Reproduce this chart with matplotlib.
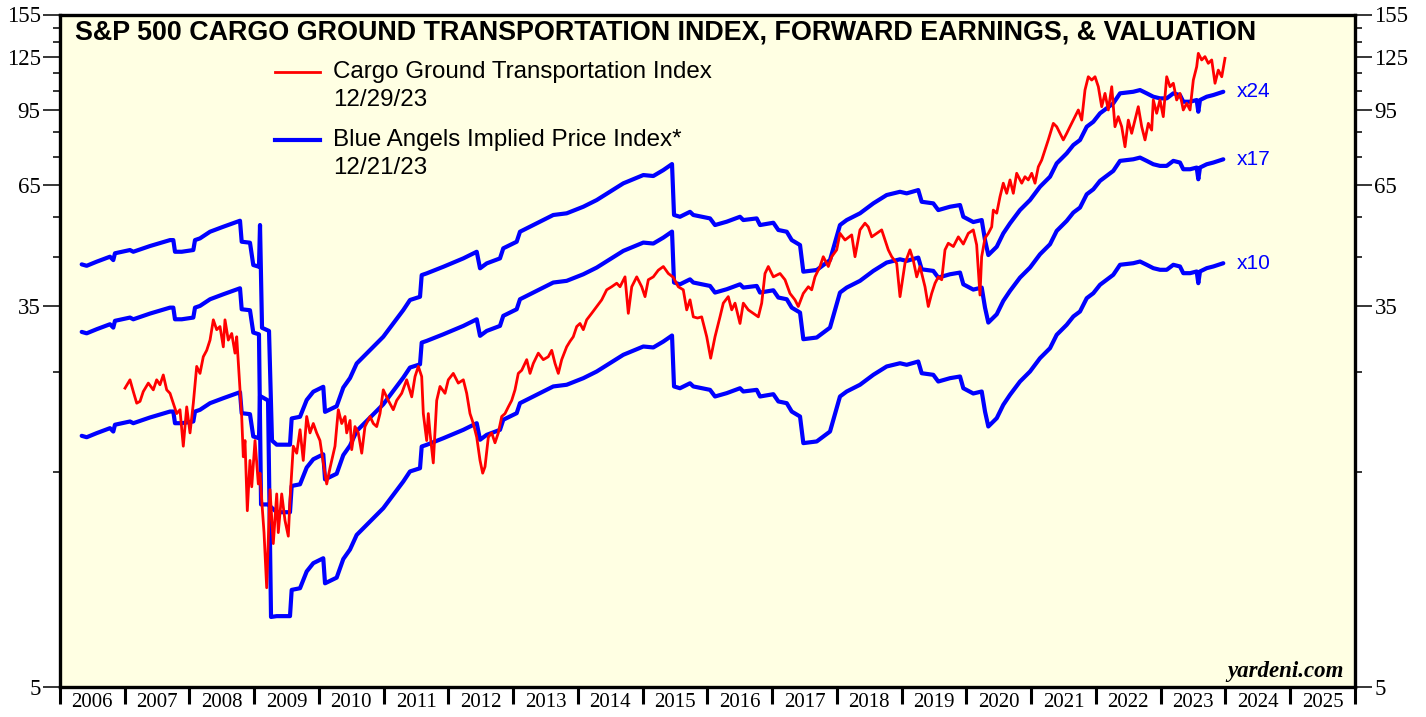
import numpy as np
import matplotlib
matplotlib.use("Agg")
import matplotlib.pyplot as plt
from matplotlib.ticker import FixedLocator, NullFormatter, FixedFormatter
from matplotlib.lines import Line2D

# ---------------- data ----------------
cargo_dates = [
    2007.004, 2007.081, 2007.132, 2007.185, 2007.236, 2007.286, 2007.364, 2007.441, 2007.493, 2007.544,
    2007.595, 2007.648, 2007.699, 2007.750, 2007.802, 2007.853, 2007.904, 2007.957, 2008.008, 2008.059,
    2008.111, 2008.162, 2008.213, 2008.266, 2008.317, 2008.368, 2008.420, 2008.471, 2008.522, 2008.548,
    2008.599, 2008.652, 2008.703, 2008.729, 2008.780, 2008.806, 2008.831, 2008.857, 2008.893, 2008.934,
    2008.961, 2009.012, 2009.063, 2009.089, 2009.115, 2009.151, 2009.192, 2009.243, 2009.294, 2009.347,
    2009.371, 2009.424, 2009.475, 2009.526, 2009.552, 2009.603, 2009.656, 2009.707, 2009.757, 2009.810,
    2009.861, 2009.912, 2009.964, 2010.015, 2010.066, 2010.119, 2010.170, 2010.247, 2010.298, 2010.351,
    2010.402, 2010.428, 2010.479, 2010.505, 2010.556, 2010.607, 2010.660, 2010.710, 2010.788, 2010.839,
    2010.891, 2010.942, 2010.993, 2011.070, 2011.147, 2011.200, 2011.277, 2011.354, 2011.432, 2011.483,
    2011.534, 2011.586, 2011.611, 2011.663, 2011.688, 2011.714, 2011.765, 2011.818, 2011.869, 2011.946,
    2011.997, 2012.074, 2012.151, 2012.229, 2012.281, 2012.332, 2012.383, 2012.436, 2012.487, 2012.528,
    2012.564, 2012.615, 2012.667, 2012.718, 2012.769, 2012.822, 2012.873, 2012.924, 2012.976, 2013.027,
    2013.078, 2013.131, 2013.208, 2013.259, 2013.310, 2013.387, 2013.464, 2013.541, 2013.594, 2013.645,
    2013.696, 2013.748, 2013.825, 2013.876, 2013.927, 2013.980, 2014.031, 2014.082, 2014.134, 2014.211,
    2014.289, 2014.366, 2014.443, 2014.520, 2014.598, 2014.649, 2014.726, 2014.777, 2014.830, 2014.907,
    2014.984, 2015.035, 2015.086, 2015.163, 2015.240, 2015.318, 2015.395, 2015.472, 2015.549, 2015.626,
    2015.679, 2015.730, 2015.781, 2015.846, 2015.910, 2015.988, 2016.049, 2016.116, 2016.193, 2016.244,
    2016.321, 2016.374, 2016.425, 2016.502, 2016.553, 2016.630, 2016.707, 2016.785, 2016.837, 2016.888,
    2016.939, 2017.017, 2017.120, 2017.197, 2017.274, 2017.351, 2017.402, 2017.479, 2017.557, 2017.609,
    2017.660, 2017.737, 2017.788, 2017.866, 2017.918, 2017.995, 2018.046, 2018.124, 2018.227, 2018.278,
    2018.355, 2018.432, 2018.483, 2018.536, 2018.613, 2018.690, 2018.741, 2018.792, 2018.845, 2018.922,
    2018.973, 2019.050, 2019.127, 2019.178, 2019.231, 2019.282, 2019.359, 2019.410, 2019.462, 2019.514,
    2019.565, 2019.617, 2019.668, 2019.719, 2019.797, 2019.874, 2019.951, 2020.028, 2020.105, 2020.157,
    2020.208, 2020.234, 2020.286, 2020.337, 2020.389, 2020.414, 2020.467, 2020.517, 2020.568, 2020.621,
    2020.672, 2020.723, 2020.775, 2020.853, 2020.903, 2020.954, 2021.007, 2021.058, 2021.109, 2021.161,
    2021.212, 2021.263, 2021.341, 2021.393, 2021.444, 2021.495, 2021.548, 2021.598, 2021.676, 2021.727,
    2021.779, 2021.830, 2021.881, 2021.934, 2021.985, 2022.036, 2022.088, 2022.139, 2022.190, 2022.243,
    2022.293, 2022.344, 2022.397, 2022.448, 2022.499, 2022.551, 2022.602, 2022.653, 2022.706, 2022.757,
    2022.808, 2022.860, 2022.885, 2022.937, 2022.988, 2023.039, 2023.092, 2023.143, 2023.194, 2023.246,
    2023.297, 2023.348, 2023.401, 2023.452, 2023.503, 2023.555, 2023.580, 2023.632, 2023.683, 2023.734,
    2023.787, 2023.838, 2023.889, 2023.942, 2023.992,
]
cargo_values = [
    23.0, 24.0, 22.6, 21.3, 21.5, 22.6, 23.6, 22.8, 24.0, 23.4,
    24.6, 22.8, 22.4, 21.3, 20.2, 20.6, 17.1, 20.9, 18.3, 21.3,
    25.7, 24.8, 27.0, 27.9, 29.4, 32.6, 31.0, 31.5, 28.4, 32.6,
    29.4, 30.4, 27.5, 29.9, 22.8, 19.9, 16.2, 17.6, 12.3, 15.9,
    13.9, 17.6, 14.1, 14.9, 13.0, 11.0, 8.3, 13.7, 10.4, 13.4,
    11.0, 13.4, 11.7, 10.8, 13.0, 17.1, 16.5, 18.6, 15.9, 19.9,
    18.3, 19.2, 18.3, 17.6, 15.7, 14.1, 15.3, 17.1, 20.6, 19.2,
    19.9, 18.3, 19.5, 16.8, 18.9, 18.3, 16.5, 18.9, 19.9, 19.2,
    18.9, 20.2, 22.8, 21.6, 20.6, 21.6, 22.4, 24.0, 22.0, 24.4,
    25.7, 24.4, 20.2, 17.6, 20.2, 18.3, 15.7, 21.6, 23.2, 22.4,
    24.0, 24.8, 23.6, 24.0, 22.4, 20.2, 19.2, 17.9, 15.9, 14.9,
    15.4, 17.9, 18.3, 17.4, 18.3, 19.9, 20.2, 20.9, 21.6, 22.8,
    24.8, 25.2, 26.6, 24.8, 26.1, 27.5, 26.6, 27.0, 27.9, 26.1,
    24.8, 26.6, 28.4, 29.2, 29.9, 31.5, 32.0, 31.0, 32.6, 33.7,
    34.9, 36.1, 38.0, 38.6, 39.3, 38.6, 40.6, 33.7, 38.6, 40.6,
    38.6, 36.7, 40.0, 40.6, 42.0, 42.8, 41.3, 40.5, 38.6, 38.0,
    34.3, 36.1, 33.1, 32.9, 33.1, 29.9, 26.8, 29.9, 33.1, 35.5,
    36.7, 34.3, 35.5, 32.0, 35.5, 34.3, 33.7, 33.1, 35.5, 41.3,
    42.8, 40.6, 41.3, 40.0, 37.3, 36.1, 34.9, 37.3, 38.6, 38.0,
    40.6, 42.8, 45.0, 42.8, 45.0, 46.6, 50.7, 49.0, 50.3, 45.0,
    51.6, 53.4, 52.4, 49.8, 50.7, 51.6, 49.0, 46.6, 45.0, 43.5,
    36.7, 43.5, 46.6, 44.2, 40.6, 42.8, 38.6, 34.9, 37.3, 39.3,
    40.6, 40.0, 46.6, 48.2, 47.4, 49.8, 48.0, 50.7, 51.6, 47.8,
    37.0, 45.0, 49.5, 50.7, 52.4, 57.1, 56.2, 61.1, 65.5, 62.2,
    66.6, 62.2, 68.9, 65.5, 67.7, 66.6, 68.9, 65.5, 71.2, 73.7,
    77.6, 81.7, 88.9, 87.4, 84.5, 81.7, 84.5, 87.4, 92.0, 95.2,
    90.4, 105.4, 112.8, 110.9, 112.8, 107.2, 96.8, 103.6, 95.2, 107.2,
    87.4, 92.0, 87.4, 78.9, 90.4, 84.5, 90.4, 96.8, 87.4, 81.7,
    88.9, 85.9, 100.2, 93.6, 100.2, 92.0, 112.8, 107.2, 109.1, 100.2,
    103.6, 95.2, 98.5, 95.2, 110.9, 118.7, 127.1, 122.9, 125.0, 120.8,
    122.9, 109.1, 116.7, 112.8, 123.9,
]

# forward earnings (index units per 1x multiple)
eps_dates = [
    2006.335, 2006.412, 2006.567, 2006.772, 2006.823, 2006.849, 2007.081, 2007.132, 2007.390, 2007.699,
    2007.750, 2007.776, 2007.880, 2008.059, 2008.085, 2008.162, 2008.317, 2008.522, 2008.780, 2008.806,
    2008.934, 2008.985, 2009.073,
    2009.347, 2009.552, 2009.578, 2009.707, 2009.810, 2009.912, 2010.066, 2010.093, 2010.273, 2010.375,
    2010.479, 2010.582, 2010.788, 2010.993, 2011.147, 2011.302, 2011.405, 2011.560, 2011.586, 2011.663,
    2011.920, 2012.229, 2012.436, 2012.487, 2012.590, 2012.795, 2012.846, 2013.053, 2013.104, 2013.362,
    2013.618, 2013.825, 2014.082, 2014.289, 2014.494, 2014.700, 2015.009, 2015.163, 2015.318, 2015.452,
    2015.483, 2015.575, 2015.730, 2015.781, 2016.039, 2016.116, 2016.297, 2016.502, 2016.553, 2016.760,
    2016.811, 2017.017, 2017.094, 2017.224, 2017.301, 2017.429, 2017.480, 2017.687, 2017.789, 2017.892,
    2018.046, 2018.150, 2018.355, 2018.561, 2018.767, 2018.973, 2019.076, 2019.255, 2019.308, 2019.487,
    2019.564, 2019.745, 2019.900, 2019.951, 2020.105, 2020.235, 2020.286, 2020.337, 2020.467, 2020.568,
    2020.672, 2020.826, 2020.981, 2021.135, 2021.290, 2021.393, 2021.548, 2021.650, 2021.753, 2021.857,
    2021.959, 2022.062, 2022.165, 2022.267, 2022.371, 2022.576, 2022.680, 2022.783, 2022.885, 2022.988,
    2023.092, 2023.194, 2023.297, 2023.348, 2023.452, 2023.555, 2023.580, 2023.606, 2023.710, 2023.812,
    2023.966,
]
fwd_eps = [
    1.803, 1.790, 1.828, 1.875, 1.843, 1.908, 1.940, 1.923, 1.980, 2.041,
    2.041, 1.923, 1.923, 1.940, 2.041, 2.059, 2.130, 2.185, 2.253, 2.024,
    2.014, 1.797, 1.781,
    0.718, 0.718, 0.821, 0.828, 0.902, 0.941, 0.965, 0.849, 0.874, 0.961,
    1.009, 1.087, 1.164, 1.246, 1.334, 1.428, 1.503, 1.528, 1.707, 1.722,
    1.781, 1.859, 1.923, 1.767, 1.812, 1.859, 1.957, 2.024, 2.130, 2.223,
    2.320, 2.340, 2.420, 2.504, 2.612, 2.727, 2.845, 2.831, 2.918, 3.009,
    2.320, 2.299, 2.358, 2.320, 2.280, 2.204, 2.242, 2.299, 2.261, 2.280,
    2.204, 2.230, 2.149, 2.130, 2.041, 1.990, 1.737, 1.752, 1.797, 1.843,
    2.204, 2.261, 2.340, 2.462, 2.569, 2.612, 2.591, 2.635, 2.482, 2.462,
    2.379, 2.420, 2.441, 2.299, 2.238, 2.261, 2.041, 1.891, 1.973, 2.112,
    2.223, 2.379, 2.504, 2.680, 2.821, 3.020, 3.179, 3.316, 3.402, 3.641,
    3.735, 3.899, 4.000, 4.103, 4.318, 4.353, 4.391, 4.318, 4.244, 4.209,
    4.209, 4.318, 4.281, 4.137, 4.137, 4.173, 3.931, 4.173, 4.244, 4.281,
    4.353,
]
multiples = [24, 17, 10]
crash_start, crash_end = 2009.08, 2009.34
crash_dates_x24 = [2009.089, 2009.120, 2009.228, 2009.274]
crash_values_x24 = [52.9, 31.3, 30.8, 17.6]
crash_dates_x17 = [2009.105, 2009.213]
crash_values_x17 = [12.7, 12.7]
crash_dates_x10 = [2009.089, 2009.213, 2009.259]
crash_values_x10 = [22.1, 21.6, 7.15]

year_edges = list(range(2006, 2027))
year_labels = [str(y) for y in range(2006, 2026)]
y_major = [5, 35, 65, 95, 125, 155]
y_minor = [15, 25, 45, 55, 75, 85, 105, 115, 135, 145]

title = "S&P 500 CARGO GROUND TRANSPORTATION INDEX, FORWARD EARNINGS, & VALUATION"
legend_red = ["Cargo Ground Transportation Index", "12/29/23"]
legend_blue = ["Blue Angels Implied Price Index*", "12/21/23"]

# ---------------- figure ----------------
W, H = 1426, 717
fig = plt.figure(figsize=(W / 100, H / 100), dpi=100)
L, R, T, B = 60, 1355, 14.5, 687
ax = fig.add_axes([L / W, 1 - B / H, (R - L) / W, (B - T) / H])
ax.set_facecolor("#FFFFE3")

RED = "#FF0000"
BLUE = "#0000FF"

crash = {24: (crash_dates_x24, crash_values_x24),
         17: (crash_dates_x17, crash_values_x17),
         10: (crash_dates_x10, crash_values_x10)}

ed = np.array(eps_dates)
ev = np.array(fwd_eps)
for m in multiples:
    cd, cv = crash[m]
    pre = ed < crash_start
    post = ed > crash_end
    xs = np.concatenate([ed[pre], cd, ed[post]])
    ys = np.concatenate([ev[pre] * m, cv, ev[post] * m])
    ax.plot(xs, ys, color=BLUE, lw=3.0, solid_joinstyle="round", solid_capstyle="round", zorder=2)
    ax.text(2024.18, ev[-1] * m, f"x{m}", color=BLUE, fontsize=15,
            family="Liberation Sans", va="center", ha="left", zorder=3)

ax.plot(cargo_dates, cargo_values, color=RED, lw=2.0, solid_joinstyle="round", zorder=3)

ax.set_yscale("log")
ax.set_ylim(5, 155)
ax.set_xlim(2006, 2026)

ax.yaxis.set_major_locator(FixedLocator(y_major))
ax.yaxis.set_major_formatter(FixedFormatter([str(v) for v in y_major]))
ax.yaxis.set_minor_locator(FixedLocator(y_minor))
ax.yaxis.set_minor_formatter(NullFormatter())
ax.tick_params(axis="y", which="major", direction="out", length=12, width=1.1,
               left=True, right=True, labelleft=True, labelright=True, pad=2,
               labelsize=16.5)
ax.tick_params(axis="y", which="minor", direction="out", length=5, width=1.1,
               left=True, right=True)
for lab in ax.get_yticklabels():
    lab.set_family("Liberation Serif")

ax.xaxis.set_major_locator(FixedLocator(year_edges))
ax.xaxis.set_major_formatter(NullFormatter())
ax.xaxis.set_minor_locator(FixedLocator([y + 0.5 for y in range(2006, 2026)]))
ax.xaxis.set_minor_formatter(FixedFormatter(year_labels))
ax.tick_params(axis="x", which="major", direction="out", length=12, width=2.2)
ax.tick_params(axis="x", which="minor", length=0, pad=4, labelsize=15)
for lab in ax.get_xticklabels(minor=True):
    lab.set_family("Liberation Serif")

for s in ax.spines.values():
    s.set_linewidth(2.4)
    s.set_color("black")

# title inside plot
fig.text(75 / W, 1 - 33 / H, title, fontsize=19.4,
         fontweight="bold", family="Liberation Sans", va="center", ha="left")

# legend (manual)
def fx(px):
    return px / W

def fy(py):
    return 1 - py / H

fig.add_artist(Line2D([fx(275), fx(320)], [fy(72), fy(72)], color=RED, lw=2.0))
fig.text(fx(333), fy(72), legend_red[0], fontsize=17.4, family="Liberation Sans", va="center")
fig.text(fx(333), fy(100), legend_red[1], fontsize=17.4, family="Liberation Sans", va="center")
fig.add_artist(Line2D([fx(275), fx(320)], [fy(140), fy(140)], color=BLUE, lw=3.0))
fig.text(fx(333), fy(140), legend_blue[0], fontsize=17.4, family="Liberation Sans", va="center")
fig.text(fx(333), fy(168), legend_blue[1], fontsize=17.4, family="Liberation Sans", va="center")

fig.text(fx(1344), fy(671), "yardeni.com", fontsize=16.5, family="Liberation Serif",
         fontweight="bold", style="italic", ha="right", va="center")

fig.savefig("out.png", dpi=100, facecolor="white")
